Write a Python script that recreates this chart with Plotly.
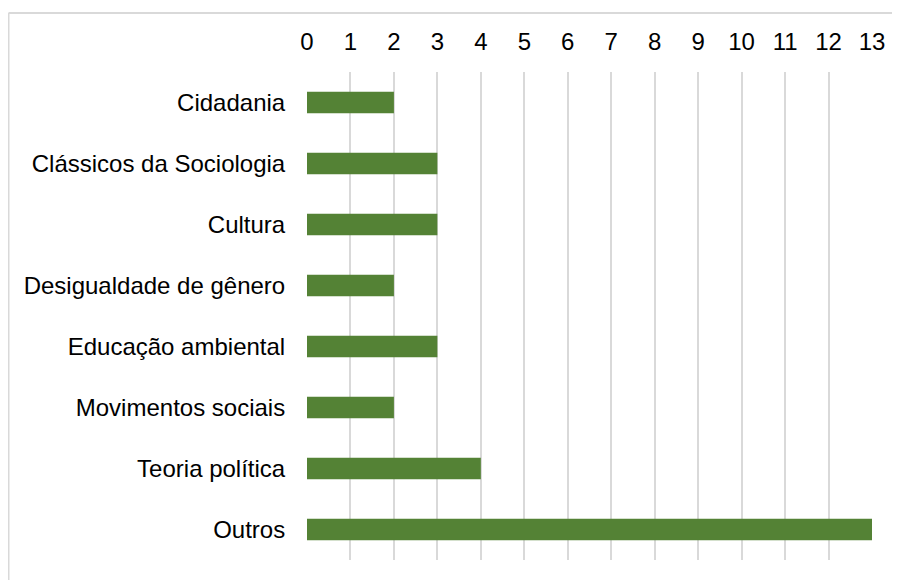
import plotly.graph_objects as go

categories = ["Cidadania", "Clássicos da Sociologia", "Cultura", "Desigualdade de gênero",
              "Educação ambiental", "Movimentos sociais", "Teoria política", "Outros"]
values = [2, 3, 3, 2, 3, 2, 4, 13]
x_ticks = list(range(0, 14))

OFF = 8  # page body margin
W, H = 900 - OFF, 580 - OFF
L, R, T, B = 307 - OFF, 28, 72 - OFF, 20
pw, ph = W - L - R, H - T - B

fig = go.Figure(go.Bar(
    x=values, y=categories, orientation="h",
    marker=dict(color="#548235", line=dict(width=0)),
    width=0.35,
))

def px_to_paper_x(p):
    return (p - L) / pw

def px_to_paper_y(p):
    return (H - B - p) / ph

fig.add_shape(type="line", xref="paper", yref="paper",
              x0=px_to_paper_x(0.5), x1=px_to_paper_x(W + 5),
              y0=px_to_paper_y(13 - OFF), y1=px_to_paper_y(13 - OFF),
              line=dict(color="#d9d9d9", width=2), layer="below")
fig.add_shape(type="line", xref="paper", yref="paper",
              x0=px_to_paper_x(0.5), x1=px_to_paper_x(0.5),
              y0=px_to_paper_y(13 - OFF), y1=px_to_paper_y(H + 5),
              line=dict(color="#d9d9d9", width=2), layer="below")

fig.update_layout(
    width=W, height=H,
    margin=dict(l=L, r=R, t=T, b=B),
    paper_bgcolor="white", plot_bgcolor="white",
    font=dict(family="Liberation Sans, Arial, sans-serif", size=24, color="#000000"),
    showlegend=False,
    xaxis=dict(side="top", range=[0, 13], tickvals=x_ticks, ticktext=[str(t) for t in x_ticks],
               showgrid=True, gridcolor="#d9d9d9", gridwidth=1.5,
               zeroline=False, showline=False,
               ticks="outside", ticklen=11, tickcolor="rgba(0,0,0,0)",
               tickfont=dict(size=24)),
    yaxis=dict(autorange="reversed", showgrid=False, zeroline=False, showline=False,
               ticks="outside", ticklen=16, tickcolor="rgba(0,0,0,0)",
               tickfont=dict(size=24)),
)

fig.write_html("out.html")
